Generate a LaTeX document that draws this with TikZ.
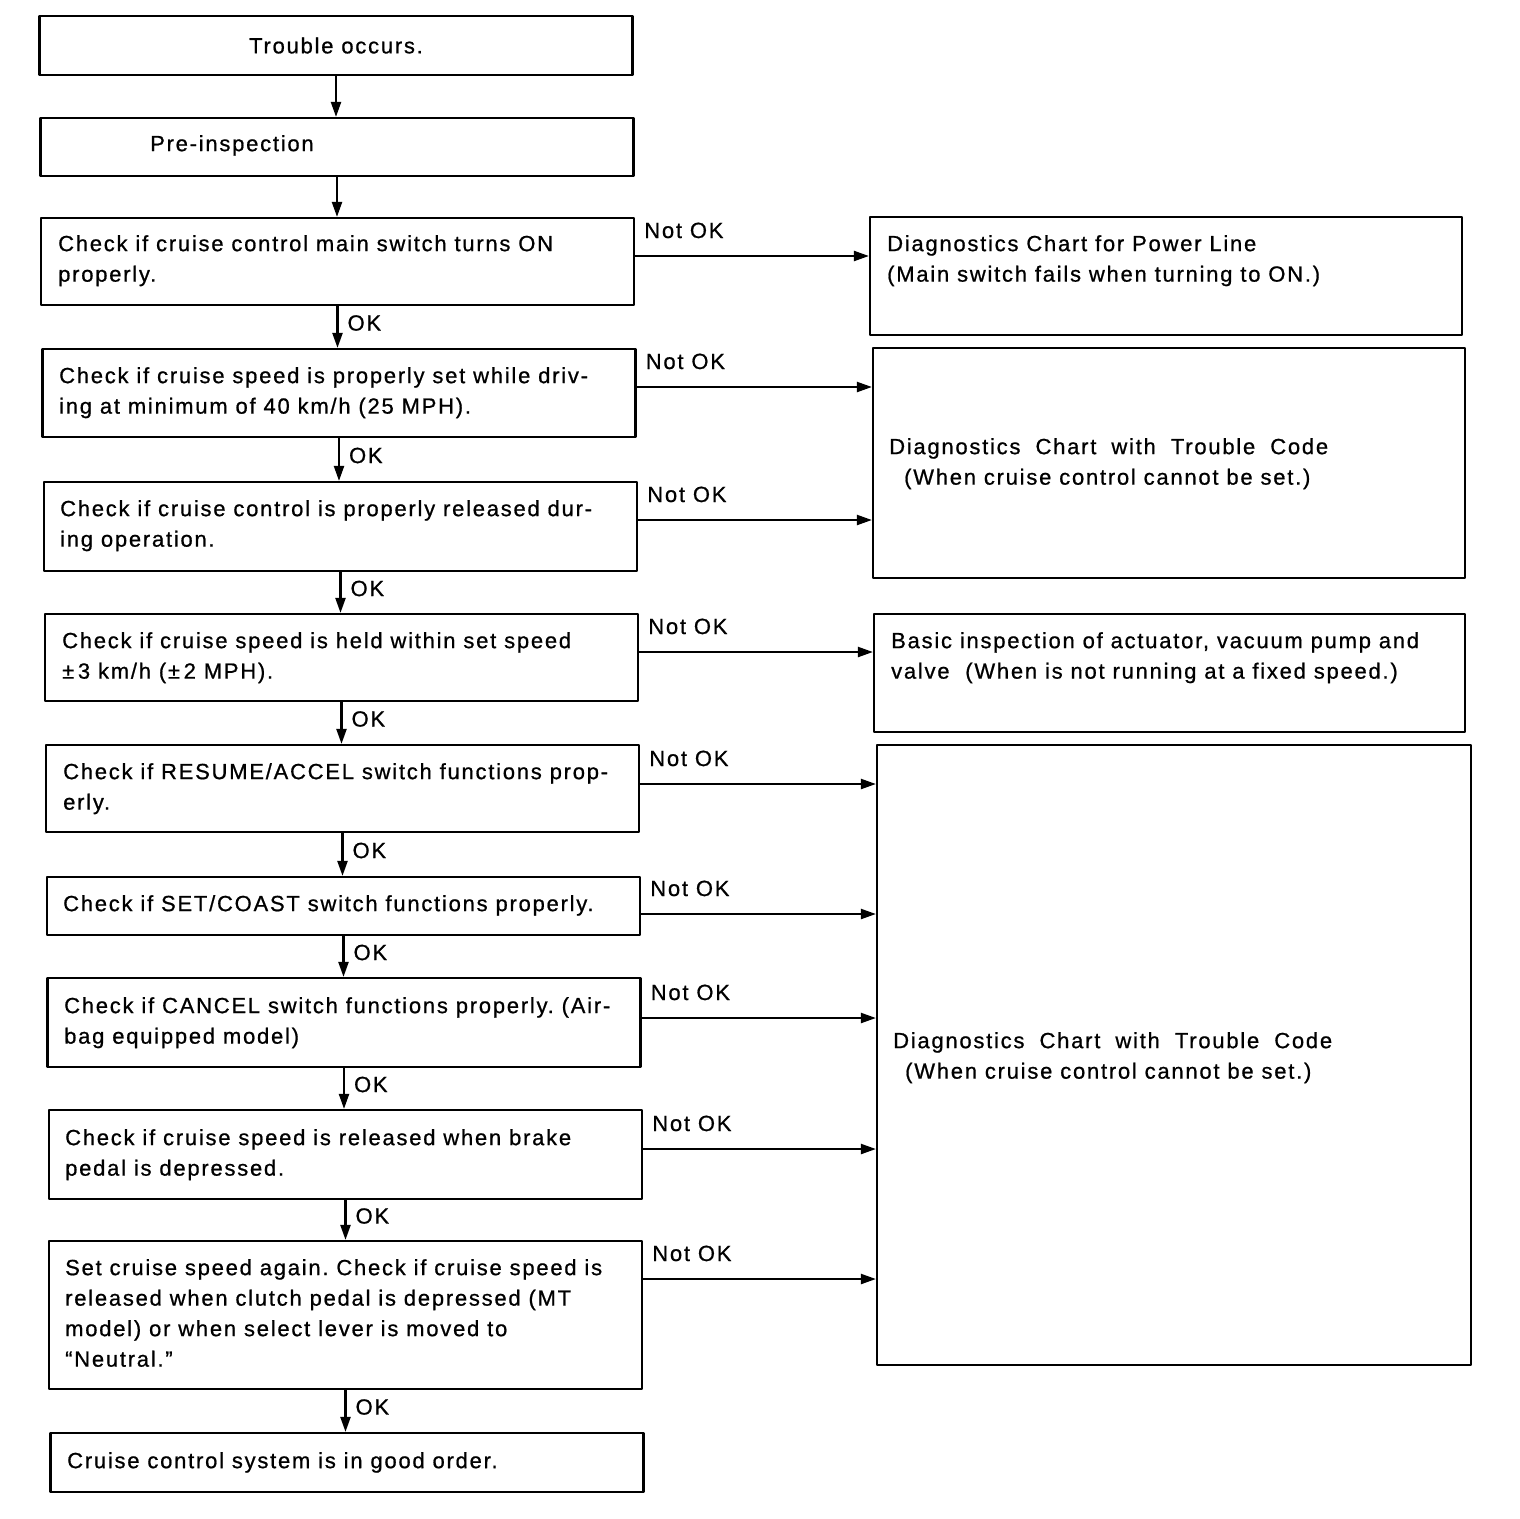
\documentclass[tikz,border=0pt]{standalone}
\usepackage{fontspec}
\setmainfont{Liberation Sans}
\newfontfamily\chartfont{Liberation Sans}[LetterSpace=8,FakeBold=0.8]
\frenchspacing
\usetikzlibrary{arrows.meta}

\begin{document}
\begin{tikzpicture}[x=1pt,y=-1pt,line cap=round,line join=round,
  box/.style={draw,line width=2.2pt,inner sep=0pt,minimum width=593pt},
  txt/.style={anchor=north west,inner sep=0pt,align=left,font=\chartfont\fontsize{22}{30.5}\selectfont},
  lbl/.style={inner sep=0pt,font=\chartfont\fontsize{22}{25}\selectfont},
  flow/.style={line width=2.2pt,-{Triangle[length=15pt,width=10pt]}}]

\useasboundingbox (0,0) rectangle (1520,1518);

% left column
\node[box,minimum height=59pt,font=\chartfont\fontsize{22}{25}\selectfont] (b1) at (336,45.5) {Trouble occurs.};
\node[box,minimum height=58pt] (b2) at (337,147) {};
\node[box,minimum height=87pt] (b3) at (337.5,261.5) {};
\node[box,minimum height=88pt] (b4) at (339,393) {};
\node[box,minimum height=89pt] (b5) at (340.5,526.5) {};
\node[box,minimum height=87pt] (b6) at (341.5,657.5) {};
\node[box,minimum height=87pt] (b7) at (342.5,788.5) {};
\node[box,minimum height=58pt] (b8) at (343.5,906) {};
\node[box,minimum height=89pt] (b9) at (344,1022.5) {};
\node[box,minimum height=89pt] (b10) at (345.5,1154.5) {};
\node[box,minimum height=148pt] (b11) at (345.5,1315) {};
\node[box,minimum height=59pt] (b12) at (347,1462.5) {};

\node[txt] (t2) at (150,135) {Pre-inspection};
\node[txt] (t3) at (58,235) {Check if cruise control main switch turns ON\\properly.};
\node[txt] (t4) at (59,367) {Check if cruise speed is properly set while driv-\\ing at minimum of 40 km/h (25 MPH).};
\node[txt] (t5) at (60,500) {Check if cruise control is properly released dur-\\ing operation.};
\node[txt] (t6) at (62,632) {Check if cruise speed is held within set speed\\±\,3 km/h (±\,2 MPH).};
\node[txt] (t7) at (63,763) {Check if RESUME/ACCEL switch functions prop-\\erly.};
\node[txt] (t8) at (63,895) {Check if SET/COAST switch functions properly.};
\node[txt] (t9) at (64,997) {Check if CANCEL switch functions properly. (Air-\\bag equipped model)};
\node[txt] (t10) at (65,1129) {Check if cruise speed is released when brake\\pedal is depressed.};
\node[txt] (t11) at (65,1259) {Set cruise speed again. Check if cruise speed is\\released when clutch pedal is depressed (MT\\model) or when select lever is moved to\\“Neutral.”};
\node[txt] (t12) at (67,1452) {Cruise control system is in good order.};

% right column
\node[box,minimum width=592pt,minimum height=118pt] (r1) at (1166,276) {};
\node[box,minimum width=592pt,minimum height=230pt] (r2) at (1169,463) {};
\node[box,minimum width=591pt,minimum height=118pt] (r3) at (1169.5,673) {};
\node[box,minimum width=594pt,minimum height=620pt] (r4) at (1174,1055) {};

\node[txt] (s1) at (887,235) {Diagnostics Chart for Power Line\\(Main switch fails when turning to ON.)};
\node[txt] (s2) at (889,438) {\makebox[439pt][s]{Diagnostics Chart with Trouble Code}\\\hspace*{15pt}(When cruise control cannot be set.)};
\node[txt] (s3) at (891,632) {Basic inspection of actuator, vacuum pump and\\valve\ \ (When is not running at a fixed speed.)};
\node[txt] (s4) at (893,1032) {\makebox[439pt][s]{Diagnostics Chart with Trouble Code}\\\hspace*{12pt}(When cruise control cannot be set.)};

% main flow
\draw[flow] (b1.south) -- (b1.south |- b2.north);
\draw[flow] (b2.south) -- (b2.south |- b3.north);
\foreach \a/\b in {b3/b4,b4/b5,b5/b6,b6/b7,b7/b8,b8/b9,b9/b10,b10/b11,b11/b12}
  \draw[flow] (\a.south) -- (\a.south |- \b.north)
    node[lbl,midway,anchor=west,xshift=9pt,yshift=4pt] (k\a) {OK};

% failures
\foreach \b/\r/\dy in {b3/r1/5.5,b4/r2/6,b5/r2/6.5,b6/r3/5.5,b7/r4/4.5,b8/r4/-8,b9/r4/4.5,b10/r4/5.5,b11/r4/36}{
  \draw[flow] ([yshift=\dy pt]\b.east) coordinate (n\b) -- (n\b -| \r.west);
  \node[lbl,anchor=base west] (m\b) at ([xshift=9pt,yshift=18pt]n\b) {Not OK};
}

\end{tikzpicture}
\end{document}
